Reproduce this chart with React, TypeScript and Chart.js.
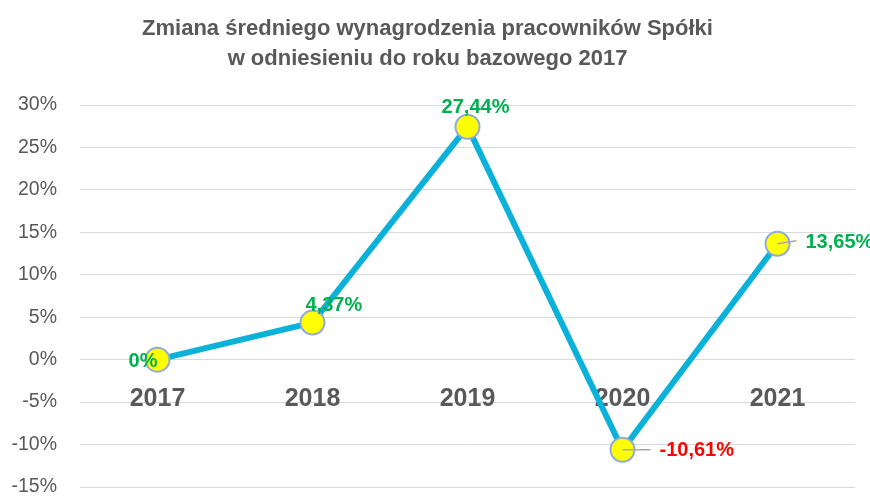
import React, { useEffect, useRef } from "react";
import { Chart, registerables } from "chart.js";

Chart.register(...registerables);

const categories = ["2017", "2018", "2019", "2020", "2021"];
const values = [0, 4.37, 27.44, -10.61, 13.65];
const yTicks = { min: -15, max: 30, step: 5 };
const titleLines = [
  "Zmiana średniego wynagrodzenia pracowników Spółki",
  "w odniesieniu do roku bazowego 2017",
];

const FONT = "'Liberation Sans', Arial, sans-serif";
const GRAY = "#595959";

// label placement style per point: [mode, dx, dy, leaderLength, leaderRise]
const labelPlacement: Array<[string, number, number, number, number]> = [
  ["left", 0, 2, 0, 0],
  ["leftAlign", -7, -17, 0, 0],
  ["center", 8, -19, 0, 0],
  ["leftAlign", 37, 1, 28, 0],
  ["leftAlign", 28, -1, 19, -3],
];

const fmt = (v: number) => (v === 0 ? "0%" : v.toFixed(2).replace(".", ",") + "%");

const labelsPlugin = {
  id: "pointLabels",
  afterDatasetsDraw(chart: any) {
    const ctx = chart.ctx;
    const meta = chart.getDatasetMeta(0);
    ctx.save();
    ctx.font = `bold 20px ${FONT}`;
    ctx.textBaseline = "middle";
    meta.data.forEach((pt: any, i: number) => {
      const v = values[i];
      const [mode, dx, dy, lead, rise] = labelPlacement[i];
      if (lead > 0) {
        ctx.strokeStyle = "#a6a6a6";
        ctx.lineWidth = 1.5;
        ctx.beginPath();
        ctx.moveTo(pt.x, pt.y);
        ctx.lineTo(pt.x + lead, pt.y + rise);
        ctx.stroke();
      }
      ctx.fillStyle = v < 0 ? "#ff0000" : "#00b050";
      ctx.textAlign = mode === "left" ? "right" : mode === "center" ? "center" : "left";
      ctx.fillText(fmt(v), pt.x + dx, pt.y + dy);
    });
    ctx.restore();
  },
};

export default function App() {
  const ref = useRef<HTMLCanvasElement>(null);
  useEffect(() => {
    document.body.style.margin = "0";
    const chart = new Chart(ref.current!, {
      type: "line",
      data: {
        labels: categories,
        datasets: [
          {
            data: values,
            borderColor: "#0ab2da",
            borderWidth: 6,
            pointRadius: 12,
            pointBackgroundColor: "#ffff00",
            pointBorderColor: "#8faadc",
            pointBorderWidth: 2,
            tension: 0,
            clip: false as any,
          },
        ],
      },
      options: {
        responsive: false,
        animation: false,
        layout: { autoPadding: false, padding: { left: 0, right: 15, top: 0, bottom: 10 } },
        plugins: {
          legend: { display: false },
          tooltip: { enabled: false },
          title: {
            display: true,
            text: titleLines,
            color: GRAY,
            font: { family: FONT, size: 22, weight: "bold", lineHeight: 1.35 },
            padding: { top: 14, bottom: 31.6 },
          },
        },
        scales: {
          x: {
            position: { y: 0 } as any,
            offset: true,
            afterFit: (s: any) => {
              s.height = 0;
              s.paddingTop = 0;
              s.paddingBottom = 0;
            },
            grid: { display: false, drawTicks: false },
            border: { display: false },
            ticks: {
              color: GRAY,
              font: { family: FONT, size: 25, weight: "bold" },
              padding: 24,
            },
          },
          y: {
            min: yTicks.min,
            max: yTicks.max,
            afterFit: (s: any) => {
              s.width = 80;
              s.paddingTop = 0;
              s.paddingBottom = 0;
            },
            grid: { color: "#d9d9d9", lineWidth: 1, drawTicks: false },
            border: { display: false },
            ticks: {
              stepSize: yTicks.step,
              color: GRAY,
              font: { family: FONT, size: 19.5 },
              padding: 23,
              callback: (v: any) => v + "%",
            },
          },
        },
      },
      plugins: [labelsPlugin],
    });
    return () => chart.destroy();
  }, []);
  return (
    <div style={{ width: 870, height: 497 }}>
      <canvas ref={ref} width={870} height={497} />
    </div>
  );
}
